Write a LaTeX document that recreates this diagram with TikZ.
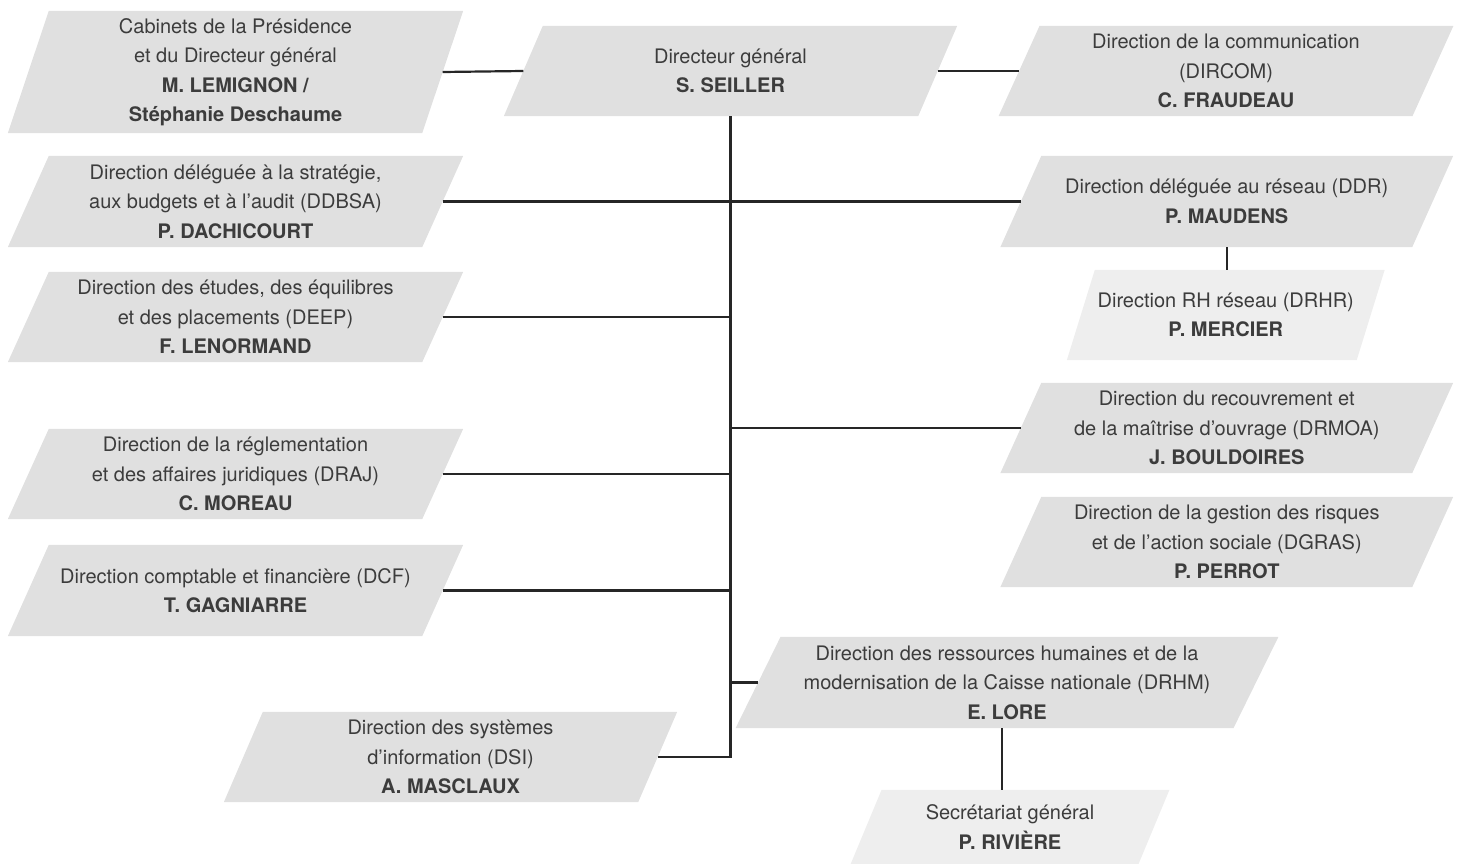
\documentclass[tikz,border=0pt]{standalone}
\usepackage{fontspec}
\setmainfont{TeX Gyre Heros}
\usetikzlibrary{backgrounds}
\definecolor{boxfill}{HTML}{E0E0E0}
\definecolor{boxlight}{HTML}{EEEEEE}
\definecolor{txt}{HTML}{3C3C3C}
\definecolor{ln}{HTML}{262626}
\begin{document}
\begin{tikzpicture}[x=1pt,y=-1pt,
  unit/.style={inner sep=0pt, align=center, text=txt, font=\fontsize{20}{29.5}\selectfont},
  conn/.style={draw=ln, line width=2.2pt}]
\useasboundingbox (0,0) rectangle (1459,864);
% left column
\node[unit, minimum width=414pt, minimum height=122pt] (cab) at (235.5,72)
  {Cabinets de la Présidence\\et du Directeur général\\\textbf{M. LEMIGNON /}\\\textbf{Stéphanie Deschaume}};
\node[unit, minimum width=414pt, minimum height=91pt] (ddbsa) at (235.5,201.5)
  {Direction déléguée à la stratégie,\\aux budgets et à l'audit (DDBSA)\\\textbf{P. DACHICOURT}};
\node[unit, minimum width=414pt, minimum height=90pt] (deep) at (235.5,317)
  {Direction des études, des équilibres\\et des placements (DEEP)\\\textbf{F. LENORMAND}};
\node[unit, minimum width=414pt, minimum height=90pt] (draj) at (235.5,474)
  {Direction de la réglementation\\et des affaires juridiques (DRAJ)\\\textbf{C. MOREAU}};
\node[unit, minimum width=414pt, minimum height=91pt] (dcf) at (235.5,590.5)
  {Direction comptable et financière (DCF)\\\textbf{T. GAGNIARRE}};
\node[unit, minimum width=414pt, minimum height=90pt] (dsi) at (450.5,757)
  {Direction des systèmes\\d'information (DSI)\\\textbf{A. MASCLAUX}};
% centre
\node[unit, minimum width=414pt, minimum height=90pt] (dg) at (730.5,71)
  {Directeur général\\\textbf{S. SEILLER}};
% right column
\node[unit, minimum width=413.5pt, minimum height=90pt] (dircom) at (1226,71)
  {Direction de la communication\\(DIRCOM)\\\textbf{C. FRAUDEAU}};
\node[unit, minimum width=411.5pt, minimum height=91pt] (ddr) at (1226.75,201.5)
  {Direction déléguée au réseau (DDR)\\\textbf{P. MAUDENS}};
\node[unit, minimum width=289.5pt, minimum height=90pt] (drhr) at (1225.75,315)
  {Direction RH réseau (DRHR)\\\textbf{P. MERCIER}};
\node[unit, minimum width=411.5pt, minimum height=90pt] (drmoa) at (1226.75,428)
  {Direction du recouvrement et\\de la maîtrise d'ouvrage (DRMOA)\\\textbf{J. BOULDOIRES}};
\node[unit, minimum width=411.5pt, minimum height=90pt] (dgras) at (1226.75,542)
  {Direction de la gestion des risques\\et de l'action sociale (DGRAS)\\\textbf{P. PERROT}};
\node[unit, minimum width=497.5pt, minimum height=91pt] (drhm) at (1007,682.5)
  {Direction des ressources humaines et de la\\modernisation de la Caisse nationale (DRHM)\\\textbf{E. LORE}};
\node[unit, minimum width=287.5pt, minimum height=74pt] (sg) at (1010,827)
  {Secrétariat général\\\textbf{P. RIVIÈRE}};
% parallelogram backgrounds
\begin{scope}[on background layer]
  \foreach \n/\s/\c in {cab/41/boxfill, ddbsa/41/boxfill, deep/41/boxfill, draj/41/boxfill,
      dcf/41/boxfill, dsi/39/boxfill, dg/39/boxfill, dircom/41/boxfill, ddr/41/boxfill,
      drhr/28/boxlight, drmoa/41/boxfill, dgras/41/boxfill, drhm/45/boxfill, sg/31/boxlight}
    \fill[\c] ([xshift={\s*0.5pt}]\n.north west) -- ([xshift={\s*0.5pt}]\n.north east)
      -- ([xshift={-\s*0.5pt}]\n.south east) -- ([xshift={-\s*0.5pt}]\n.south west) -- cycle;
\end{scope}
% connectors
\draw[conn] (cab.east) -- (dg.west);
\draw[conn] (dg.east) -- (dircom.west);
\draw[conn] (dg.south) -- (dg.south |- dsi.east) -- (dsi.east);
\foreach \n in {ddbsa, deep, draj, dcf}
  \draw[conn] (\n.east) -- (\n.east -| dg.south);
\foreach \n in {ddr, drmoa, drhm}
  \draw[conn] (\n.west -| dg.south) -- (\n.west);
\draw[conn] (ddr.south) -- (ddr.south |- drhr.north);
\draw[conn] ([xshift=-5pt]drhm.south) -- ([xshift=-5pt]drhm.south |- sg.north);
\end{tikzpicture}
\end{document}
